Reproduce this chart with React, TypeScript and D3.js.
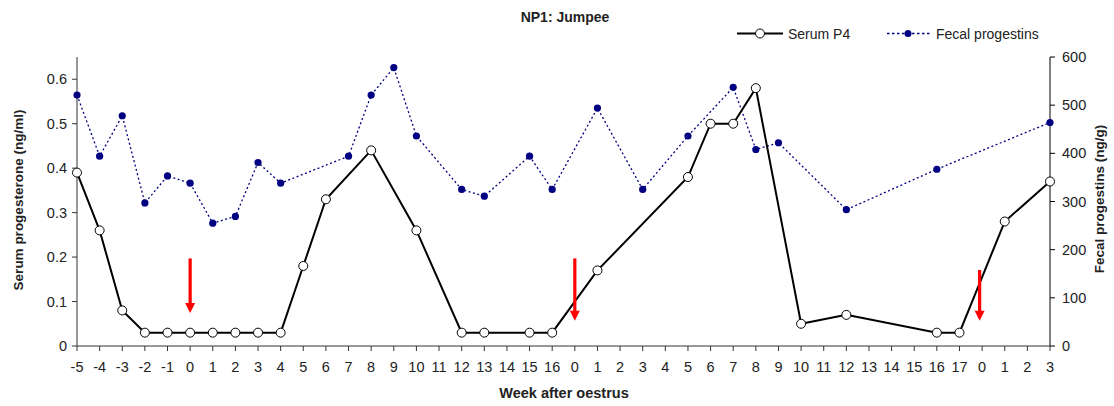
import React from "react";
import * as d3 from "d3";

const weeks: string[] = [
  "-5", "-4", "-3", "-2", "-1", "0", "1", "2", "3", "4", "5", "6", "7", "8", "9", "10", "11", "12", "13", "14", "15", "16",
  "0", "1", "2", "3", "4", "5", "6", "7", "8", "9", "10", "11", "12", "13", "14", "15", "16", "17",
  "0", "1", "2", "3",
];

const serumP4: (number | null)[] = [
  0.39, 0.26, 0.08, 0.03, 0.03, 0.03, 0.03, 0.03, 0.03, 0.03, 0.18, 0.33, null, 0.44, null, 0.26, null, 0.03, 0.03, null, 0.03, 0.03,
  null, 0.17, null, null, null, 0.38, 0.5, 0.5, 0.58, null, 0.05, null, 0.07, null, null, null, 0.03, 0.03,
  null, 0.28, null, 0.37,
];

const fecal: (number | null)[] = [
  521, 394, 478, 297, 353, 338, 255, 269, 381, 338, null, null, 394, 521, 578, 436, null, 325, 311, null, 394, 325,
  null, 494, null, 325, null, 436, null, 537, 408, 422, null, null, 283, null, null, null, 367, null,
  null, null, null, 464,
];

// oestrus arrows: category index, top value, tip value (left axis units)
const arrowIdx: number[] = [5, 22, 40];
const arrowTop: number[] = [0.197, 0.197, 0.171];
const arrowTip: number[] = [0.074, 0.057, 0.057];

const leftTicks: number[] = [0, 0.1, 0.2, 0.3, 0.4, 0.5, 0.6];
const rightTicks: number[] = [0, 100, 200, 300, 400, 500, 600];

const FONT = "'Liberation Sans', Arial, sans-serif";
const NAVY = "#000080";

export default function App() {
  const W = 1114, H = 406;
  const left = 77, right = 1050, top = 57, bottom = 346;
  const idx = weeks.map((_, i) => i);
  const x = d3.scalePoint<number>().domain(idx).range([left, right]);
  const yL = d3.scaleLinear().domain([0, 0.65]).range([bottom, top]);
  const yR = d3.scaleLinear().domain([0, 600]).range([bottom, top]);

  const serumPts = serumP4
    .map((v, i) => ({ i, v }))
    .filter((d) => d.v !== null) as { i: number; v: number }[];
  const fecalPts = fecal
    .map((v, i) => ({ i, v }))
    .filter((d) => d.v !== null) as { i: number; v: number }[];

  const serumLine = d3
    .line<{ i: number; v: number }>()
    .x((d) => x(d.i)!)
    .y((d) => yL(d.v));
  const fecalLine = d3
    .line<{ i: number; v: number }>()
    .x((d) => x(d.i)!)
    .y((d) => yR(d.v));

  return (
    <div style={{ position: "absolute", left: 0, top: 0 }}>
      <svg width={W} height={H} style={{ display: "block", background: "#fff" }} fontFamily={FONT}>
        {/* title */}
        <text x={565} y={22} textAnchor="middle" fontSize={14} fontWeight="bold" fill="#222">
          NP1: Jumpee
        </text>

        {/* legend */}
        <line x1={737} x2={783} y1={33.5} y2={33.5} stroke="#000" strokeWidth={2} />
        <circle cx={760} cy={33.5} r={4.5} fill="#fff" stroke="#000" strokeWidth={1} />
        <text x={788} y={38.5} fontSize={14} fill="#222">Serum P4</text>
        <line x1={887} x2={930} y1={33.5} y2={33.5} stroke={NAVY} strokeWidth={1.5} strokeDasharray="2.5,2.5" />
        <circle cx={908} cy={33.5} r={3.5} fill={NAVY} />
        <text x={936} y={38.5} fontSize={14} fill="#222">Fecal progestins</text>

        {/* left axis */}
        <line x1={left} x2={left} y1={top} y2={bottom} stroke="#333" strokeWidth={1} />
        {leftTicks.map((t) => (
          <g key={"l" + t}>
            <line x1={left - 5} x2={left} y1={yL(t)} y2={yL(t)} stroke="#333" />
            <text x={67} y={yL(t) + 5} textAnchor="end" fontSize={14.5} fill="#222">
              {t === 0 ? "0" : t.toFixed(1)}
            </text>
          </g>
        ))}
        <text
          transform={`translate(23,200) rotate(-90)`}
          textAnchor="middle"
          fontSize={13.5}
          fontWeight="bold"
          fill="#222"
        >
          Serum progesterone (ng/ml)
        </text>

        {/* right axis */}
        <line x1={right} x2={right} y1={top} y2={bottom} stroke="#000" strokeWidth={1} />
        {rightTicks.map((t) => (
          <g key={"r" + t}>
            <line x1={right} x2={right + 5} y1={yR(t)} y2={yR(t)} stroke="#000" />
            <text x={1062} y={yR(t) + 5} textAnchor="start" fontSize={14.5} fill="#222">
              {t}
            </text>
          </g>
        ))}
        <text
          transform={`translate(1104,199) rotate(-90)`}
          textAnchor="middle"
          fontSize={13.5}
          fontWeight="bold"
          fill="#222"
        >
          Fecal progestins (ng/g)
        </text>

        {/* x axis */}
        <line x1={left} x2={right} y1={bottom} y2={bottom} stroke="#333" strokeWidth={1} />
        {idx.map((i) => (
          <g key={"x" + i}>
            <line x1={x(i)} x2={x(i)} y1={bottom} y2={bottom + 5} stroke="#333" />
            <text x={x(i)} y={372} textAnchor="middle" fontSize={14.5} fill="#222">
              {weeks[i]}
            </text>
          </g>
        ))}
        <text x={564} y={398} textAnchor="middle" fontSize={14.5} fontWeight="bold" fill="#222">
          Week after oestrus
        </text>

        {/* fecal series */}
        <path d={fecalLine(fecalPts) || ""} fill="none" stroke={NAVY} strokeWidth={1.3} strokeDasharray="2,2.5" />
        {fecalPts.map((d) => (
          <circle key={"f" + d.i} cx={x(d.i)} cy={yR(d.v)} r={3.6} fill={NAVY} />
        ))}

        {/* serum series */}
        <path d={serumLine(serumPts) || ""} fill="none" stroke="#000" strokeWidth={2} />
        {serumPts.map((d) => (
          <circle key={"s" + d.i} cx={x(d.i)} cy={yL(d.v)} r={4.5} fill="#fff" stroke="#000" strokeWidth={1} />
        ))}

        {/* arrows */}
        {arrowIdx.map((ai, k) => {
          const cx = x(ai)! - (k === 2 ? 2.5 : 0);
          const y0 = yL(arrowTop[k]);
          const y1 = yL(arrowTip[k]);
          return (
            <g key={"a" + k}>
              <rect x={cx - 1.6} y={y0} width={3.2} height={y1 - y0 - 9} fill="#ff0000" />
              <path d={`M${cx - 5},${y1 - 10}L${cx + 5},${y1 - 10}L${cx},${y1}Z`} fill="#ff0000" />
            </g>
          );
        })}
      </svg>
    </div>
  );
}
